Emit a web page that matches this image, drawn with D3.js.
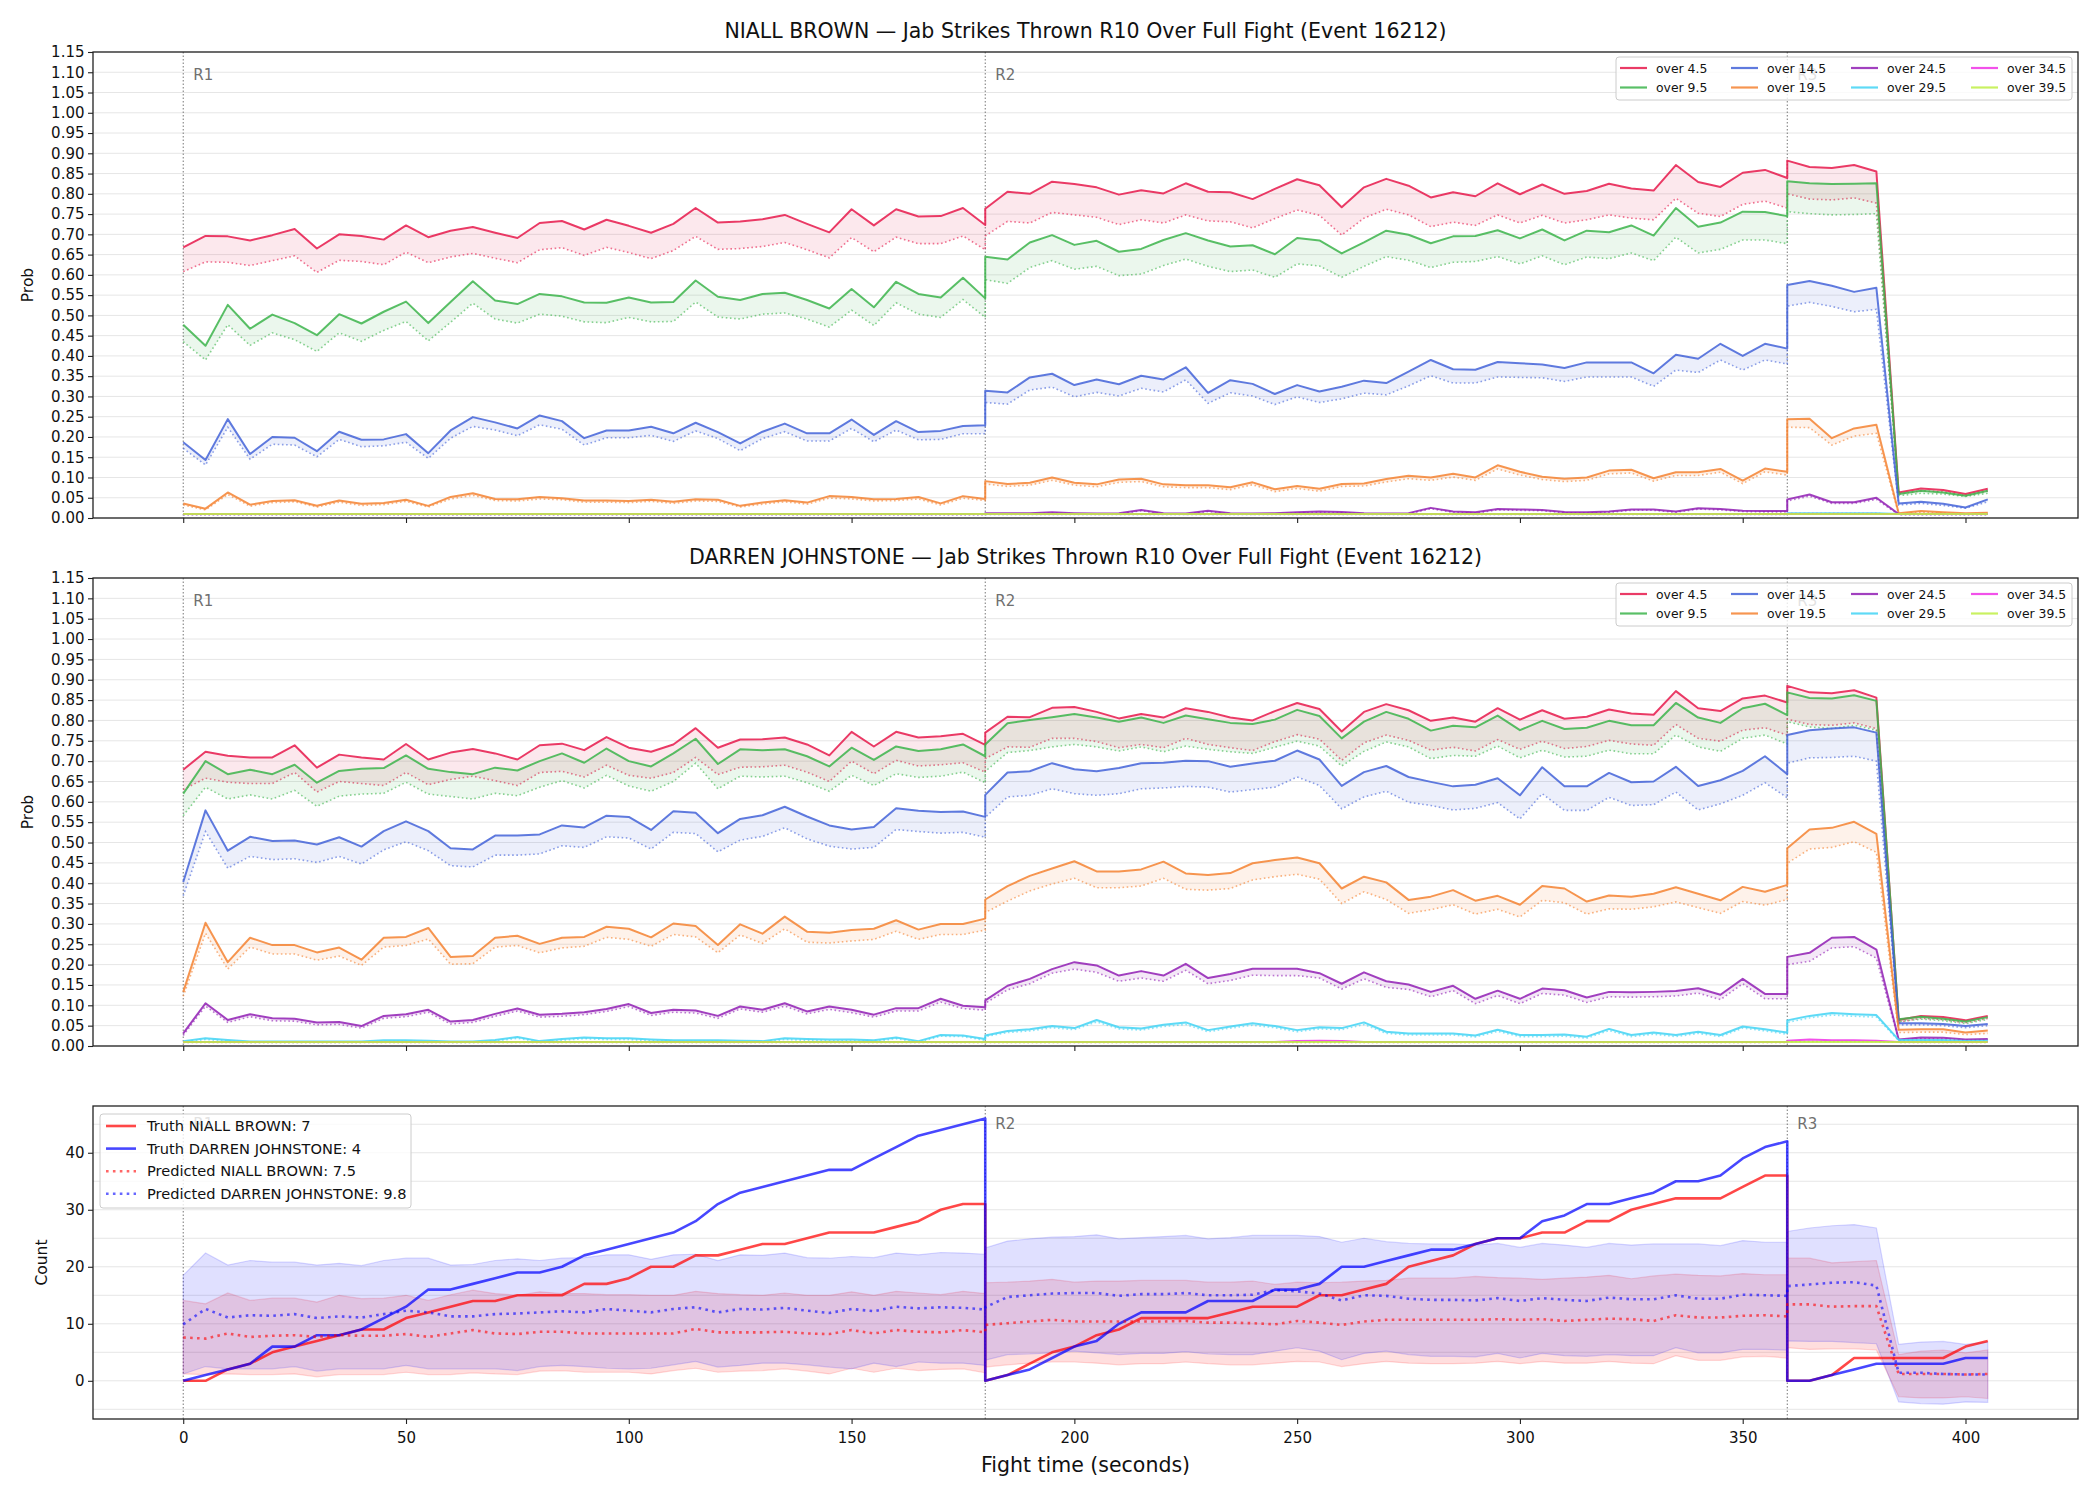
<!DOCTYPE html>
<html>
<head>
<meta charset="utf-8">
<script src="https://cdnjs.cloudflare.com/ajax/libs/d3/7.8.5/d3.min.js"></script>
<style>
  body { margin: 0; background: #fff; }
  text { font-family: "DejaVu Sans", sans-serif; }
</style>
</head>
<body>
<svg id="chart"></svg>
<script>
// time stamps (seconds); round boundaries appear twice (end of one round, start of next)
var times = [
  0,5,10,15,20,25,30,35,40,45,50,55,60,65,70,75,80,85,90,95,100,105,110,115,120,125,130,135,
  140,145,150,155,160,165,170,175,180,
  180,185,190,195,200,205,210,215,220,225,230,235,240,245,250,255,260,265,270,
  275,280,285,290,295,300,305,310,315,320,325,330,335,340,345,350,355,360,
  360,365,370,375,380,385,390,395,400,405
];

var thresholds = ["over 4.5", "over 9.5", "over 14.5", "over 19.5", "over 24.5", "over 29.5", "over 34.5", "over 39.5"];
var lineColors = ["#e6194b", "#3cb44b", "#4363d8", "#f58231", "#911eb4", "#42d4f4", "#f032e6", "#bfef45"];

var probTicks = [0,0.05,0.1,0.15,0.2,0.25,0.3,0.35,0.4,0.45,0.5,0.55,0.6,0.65,0.7,0.75,0.8,0.85,0.9,0.95,1,1.05,1.1,1.15];
var timeTicks = [0,50,100,150,200,250,300,350,400];
var countTicks = [0,10,20,30,40];
var countGrid = [-5,0,5,10,15,20,25,30,35,40,45];
var roundStarts = [0,180,360];
var roundNames = ["R1","R2","R3"];

// ---- NIALL BROWN probabilities (solid and dotted) ----
var nb45 = [
  0.668,0.696,0.695,0.685,0.698,0.713,0.665,0.700,0.696,0.687,0.722,0.693,0.709,0.718,0.704,0.691,0.728,0.733,0.712,0.736,0.721,0.704,0.726,0.765,0.729,0.732,0.737,0.748,
  0.726,0.705,0.762,0.722,0.762,0.744,0.745,0.765,0.723,
  0.763,0.805,0.800,0.830,0.824,0.816,0.798,0.809,0.801,0.826,0.805,0.804,0.787,0.812,0.836,0.821,0.767,0.816,0.837,
  0.820,0.791,0.804,0.794,0.826,0.799,0.823,0.800,0.807,0.825,0.813,0.808,0.871,0.829,0.817,0.852,0.859,0.839,
  0.882,0.866,0.864,0.871,0.855,0.063,0.073,0.069,0.059,0.072];
var nb45d = [
  0.608,0.632,0.631,0.623,0.635,0.647,0.606,0.636,0.633,0.625,0.656,0.630,0.644,0.653,0.641,0.630,0.662,0.667,0.648,0.668,0.655,0.640,0.660,0.695,0.663,0.665,0.670,0.680,
  0.662,0.642,0.692,0.657,0.693,0.677,0.677,0.696,0.662,
  0.696,0.732,0.728,0.754,0.748,0.742,0.724,0.736,0.728,0.748,0.733,0.731,0.716,0.739,0.760,0.747,0.698,0.740,0.762,
  0.748,0.719,0.730,0.722,0.748,0.728,0.747,0.728,0.736,0.748,0.740,0.736,0.789,0.752,0.744,0.774,0.782,0.765,
  0.800,0.787,0.785,0.790,0.777,0.059,0.067,0.065,0.055,0.067];
var nb95 = [
  0.477,0.425,0.526,0.467,0.502,0.481,0.451,0.503,0.480,0.509,0.534,0.481,0.533,0.584,0.537,0.528,0.553,0.547,0.532,0.531,0.544,0.532,0.533,0.586,0.546,0.538,0.553,0.556,
  0.538,0.517,0.565,0.520,0.583,0.553,0.544,0.593,0.542,
  0.645,0.638,0.680,0.698,0.674,0.684,0.657,0.664,0.686,0.703,0.685,0.670,0.673,0.651,0.691,0.685,0.653,0.680,0.709,
  0.699,0.678,0.695,0.696,0.710,0.690,0.712,0.685,0.709,0.705,0.722,0.697,0.765,0.719,0.729,0.756,0.755,0.745,
  0.831,0.826,0.824,0.825,0.826,0.059,0.067,0.063,0.055,0.067];
var nb95d = [
  0.435,0.390,0.477,0.426,0.457,0.440,0.411,0.457,0.436,0.463,0.485,0.437,0.483,0.530,0.491,0.481,0.503,0.498,0.484,0.482,0.495,0.484,0.485,0.533,0.496,0.491,0.503,0.506,
  0.491,0.471,0.513,0.475,0.531,0.503,0.495,0.539,0.495,
  0.588,0.579,0.618,0.635,0.614,0.621,0.598,0.602,0.623,0.639,0.621,0.608,0.612,0.594,0.627,0.622,0.594,0.621,0.645,
  0.636,0.618,0.631,0.633,0.645,0.627,0.647,0.625,0.644,0.640,0.654,0.635,0.693,0.654,0.663,0.686,0.686,0.677,
  0.756,0.751,0.748,0.749,0.751,0.055,0.061,0.059,0.053,0.061];
var nb145 = [
  0.187,0.143,0.244,0.158,0.200,0.198,0.165,0.213,0.193,0.194,0.207,0.160,0.216,0.249,0.236,0.221,0.253,0.239,0.197,0.216,0.216,0.225,0.209,0.235,0.212,0.184,0.213,0.233,
  0.209,0.209,0.243,0.205,0.239,0.212,0.215,0.227,0.229,
  0.314,0.310,0.347,0.356,0.328,0.342,0.330,0.351,0.342,0.372,0.309,0.340,0.331,0.306,0.328,0.312,0.324,0.339,0.333,
  0.361,0.390,0.367,0.366,0.385,0.382,0.379,0.370,0.384,0.384,0.384,0.357,0.403,0.393,0.430,0.400,0.430,0.418,
  0.575,0.585,0.573,0.558,0.568,0.036,0.040,0.035,0.026,0.046];
var nb145d = [
  0.172,0.131,0.224,0.145,0.182,0.180,0.151,0.194,0.176,0.178,0.187,0.147,0.197,0.226,0.217,0.203,0.230,0.219,0.180,0.198,0.198,0.204,0.189,0.215,0.196,0.166,0.196,0.213,
  0.190,0.190,0.221,0.188,0.217,0.193,0.194,0.208,0.208,
  0.285,0.281,0.316,0.323,0.299,0.310,0.301,0.320,0.311,0.341,0.283,0.309,0.301,0.280,0.299,0.285,0.294,0.308,0.304,
  0.326,0.351,0.333,0.333,0.348,0.347,0.346,0.337,0.348,0.348,0.348,0.325,0.365,0.359,0.390,0.365,0.390,0.380,
  0.523,0.532,0.522,0.509,0.515,0.032,0.036,0.031,0.024,0.040];
var nb195 = [
  0.036,0.023,0.063,0.033,0.042,0.044,0.030,0.043,0.035,0.037,0.045,0.030,0.052,0.061,0.047,0.046,0.052,0.049,0.043,0.043,0.042,0.045,0.040,0.046,0.045,0.030,0.038,0.044,
  0.038,0.054,0.052,0.046,0.047,0.052,0.036,0.054,0.047,
  0.091,0.084,0.087,0.100,0.087,0.083,0.095,0.097,0.083,0.081,0.081,0.076,0.088,0.071,0.079,0.072,0.084,0.085,0.096,
  0.104,0.100,0.109,0.100,0.130,0.114,0.102,0.097,0.100,0.117,0.119,0.098,0.113,0.113,0.121,0.092,0.122,0.114,
  0.244,0.245,0.197,0.221,0.230,0.012,0.017,0.014,0.012,0.013];
var nb195d = [
  0.032,0.020,0.058,0.029,0.038,0.040,0.027,0.039,0.031,0.033,0.041,0.027,0.047,0.056,0.043,0.042,0.047,0.045,0.039,0.039,0.038,0.041,0.036,0.042,0.041,0.027,0.034,0.040,
  0.034,0.049,0.047,0.042,0.043,0.047,0.032,0.049,0.043,
  0.084,0.078,0.081,0.093,0.081,0.077,0.088,0.090,0.077,0.075,0.075,0.070,0.082,0.065,0.073,0.066,0.078,0.079,0.089,
  0.097,0.093,0.101,0.093,0.121,0.106,0.095,0.090,0.093,0.109,0.111,0.091,0.105,0.105,0.113,0.085,0.114,0.106,
  0.224,0.223,0.180,0.202,0.209,0.010,0.014,0.012,0.010,0.011];
var nb245 = [
  0.010,0.010,0.010,0.010,0.010,0.010,0.010,0.010,0.010,0.010,0.010,0.010,0.010,0.010,0.010,0.010,0.010,0.010,0.010,0.010,0.010,0.010,0.010,0.010,0.010,0.010,0.010,0.010,
  0.010,0.010,0.010,0.010,0.010,0.010,0.010,0.010,0.010,
  0.012,0.012,0.012,0.014,0.012,0.011,0.012,0.020,0.012,0.011,0.018,0.012,0.011,0.012,0.014,0.016,0.015,0.012,0.011,
  0.012,0.025,0.016,0.014,0.022,0.021,0.020,0.015,0.014,0.016,0.021,0.021,0.016,0.024,0.022,0.018,0.017,0.017,
  0.046,0.058,0.039,0.039,0.050,0.010,0.010,0.010,0.010,0.010];
var nb245d = [
  0.008,0.008,0.008,0.008,0.008,0.008,0.008,0.008,0.008,0.008,0.008,0.008,0.008,0.008,0.008,0.008,0.008,0.008,0.008,0.008,0.008,0.008,0.008,0.008,0.008,0.008,0.008,0.008,
  0.008,0.008,0.008,0.008,0.008,0.008,0.008,0.008,0.008,
  0.010,0.010,0.010,0.012,0.010,0.009,0.010,0.018,0.010,0.009,0.016,0.010,0.009,0.010,0.012,0.014,0.013,0.010,0.009,
  0.010,0.023,0.014,0.012,0.020,0.019,0.018,0.013,0.012,0.014,0.019,0.019,0.014,0.022,0.020,0.016,0.015,0.015,
  0.042,0.054,0.036,0.036,0.046,0.008,0.008,0.008,0.008,0.008];
var nb295 = [
  0.010,0.010,0.010,0.010,0.010,0.010,0.010,0.010,0.010,0.010,0.010,0.010,0.010,0.010,0.010,0.010,0.010,0.010,0.010,0.010,0.010,0.010,0.010,0.010,0.010,0.010,0.010,0.010,
  0.010,0.010,0.010,0.010,0.010,0.010,0.010,0.010,0.010,
  0.010,0.010,0.010,0.010,0.010,0.010,0.010,0.010,0.010,0.010,0.010,0.010,0.010,0.010,0.010,0.010,0.010,0.010,0.010,
  0.010,0.010,0.010,0.010,0.010,0.010,0.010,0.010,0.010,0.010,0.010,0.010,0.010,0.010,0.010,0.010,0.010,0.010,
  0.012,0.012,0.012,0.012,0.012,0.010,0.010,0.010,0.010,0.010];
var nb295d = [
  0.009,0.009,0.009,0.009,0.009,0.009,0.009,0.009,0.009,0.009,0.009,0.009,0.009,0.009,0.009,0.009,0.009,0.009,0.009,0.009,0.009,0.009,0.009,0.009,0.009,0.009,0.009,0.009,
  0.009,0.009,0.009,0.009,0.009,0.009,0.009,0.009,0.009,
  0.009,0.009,0.009,0.009,0.009,0.009,0.009,0.009,0.009,0.009,0.009,0.009,0.009,0.009,0.009,0.009,0.009,0.009,0.009,
  0.009,0.009,0.009,0.009,0.009,0.009,0.009,0.009,0.009,0.009,0.009,0.009,0.009,0.009,0.009,0.009,0.009,0.009,
  0.011,0.011,0.011,0.011,0.011,0.009,0.009,0.009,0.009,0.009];
var nb345 = [
  0.010,0.010,0.010,0.010,0.010,0.010,0.010,0.010,0.010,0.010,0.010,0.010,0.010,0.010,0.010,0.010,0.010,0.010,0.010,0.010,0.010,0.010,0.010,0.010,0.010,0.010,0.010,0.010,
  0.010,0.010,0.010,0.010,0.010,0.010,0.010,0.010,0.010,
  0.010,0.010,0.010,0.010,0.010,0.010,0.010,0.010,0.010,0.010,0.010,0.010,0.010,0.010,0.010,0.010,0.010,0.010,0.010,
  0.010,0.010,0.010,0.010,0.010,0.010,0.010,0.010,0.010,0.010,0.010,0.010,0.010,0.010,0.010,0.010,0.010,0.010,
  0.010,0.010,0.010,0.010,0.010,0.010,0.010,0.010,0.010,0.010];
var nb345d = nb295d;
var nb395 = [
  0.010,0.010,0.010,0.010,0.010,0.010,0.010,0.010,0.010,0.010,0.010,0.010,0.010,0.010,0.010,0.010,0.010,0.010,0.010,0.010,0.010,0.010,0.010,0.010,0.010,0.010,0.010,0.010,
  0.010,0.010,0.010,0.010,0.010,0.010,0.010,0.010,0.010,
  0.010,0.010,0.010,0.010,0.010,0.010,0.010,0.010,0.010,0.010,0.010,0.010,0.010,0.010,0.010,0.010,0.010,0.010,0.010,
  0.010,0.010,0.010,0.010,0.010,0.010,0.010,0.010,0.010,0.010,0.010,0.010,0.010,0.010,0.010,0.010,0.010,0.010,
  0.010,0.010,0.010,0.010,0.010,0.010,0.010,0.010,0.010,0.010];
var nb395d = nb345;

// ---- DARREN JOHNSTONE probabilities ----
var dj45 = [
  0.679,0.723,0.713,0.709,0.709,0.739,0.684,0.716,0.709,0.704,0.742,0.704,0.721,0.730,0.719,0.704,0.739,0.743,0.727,0.759,0.733,0.723,0.741,0.781,0.733,0.753,0.754,0.758,
  0.741,0.714,0.772,0.736,0.772,0.758,0.761,0.767,0.740,
  0.770,0.809,0.808,0.831,0.833,0.821,0.805,0.816,0.807,0.830,0.821,0.807,0.800,0.823,0.843,0.828,0.773,0.821,0.840,
  0.825,0.799,0.807,0.797,0.830,0.802,0.825,0.804,0.809,0.827,0.817,0.814,0.872,0.830,0.823,0.854,0.861,0.844,
  0.885,0.869,0.867,0.874,0.856,0.064,0.074,0.071,0.063,0.074];
var dj45d = [
  0.630,0.658,0.648,0.645,0.645,0.672,0.624,0.650,0.645,0.640,0.672,0.642,0.655,0.663,0.652,0.640,0.672,0.675,0.661,0.690,0.665,0.658,0.672,0.709,0.667,0.685,0.686,0.690,
  0.673,0.650,0.700,0.669,0.702,0.688,0.691,0.696,0.673,
  0.706,0.735,0.734,0.756,0.756,0.748,0.733,0.741,0.733,0.756,0.741,0.733,0.726,0.748,0.765,0.754,0.702,0.745,0.764,
  0.751,0.727,0.734,0.725,0.753,0.729,0.749,0.731,0.736,0.751,0.742,0.739,0.790,0.756,0.749,0.776,0.782,0.764,
  0.803,0.790,0.788,0.794,0.780,0.058,0.068,0.065,0.057,0.068];
var dj95 = [
  0.620,0.700,0.668,0.679,0.668,0.691,0.647,0.676,0.681,0.683,0.714,0.681,0.673,0.668,0.684,0.677,0.700,0.719,0.696,0.731,0.700,0.687,0.719,0.755,0.693,0.729,0.727,0.729,
  0.712,0.687,0.733,0.703,0.736,0.725,0.729,0.741,0.712,
  0.741,0.793,0.801,0.808,0.816,0.807,0.797,0.807,0.794,0.812,0.803,0.794,0.791,0.802,0.826,0.811,0.756,0.797,0.821,
  0.804,0.775,0.787,0.783,0.812,0.776,0.799,0.779,0.782,0.799,0.788,0.788,0.843,0.807,0.794,0.830,0.841,0.813,
  0.869,0.855,0.854,0.862,0.848,0.066,0.072,0.067,0.060,0.071];
var dj95d = [
  0.566,0.636,0.607,0.617,0.607,0.628,0.589,0.614,0.619,0.621,0.648,0.619,0.613,0.607,0.621,0.615,0.636,0.652,0.634,0.665,0.639,0.626,0.650,0.695,0.632,0.663,0.661,0.663,
  0.647,0.626,0.665,0.640,0.669,0.660,0.663,0.673,0.647,
  0.675,0.721,0.726,0.735,0.741,0.735,0.725,0.735,0.723,0.737,0.729,0.723,0.719,0.734,0.749,0.737,0.688,0.724,0.747,
  0.735,0.706,0.714,0.712,0.737,0.708,0.727,0.710,0.712,0.727,0.718,0.718,0.764,0.735,0.724,0.756,0.764,0.742,
  0.797,0.784,0.780,0.788,0.776,0.060,0.066,0.062,0.055,0.065];
var dj145 = [
  0.403,0.579,0.480,0.514,0.504,0.505,0.495,0.513,0.490,0.528,0.552,0.528,0.486,0.483,0.517,0.517,0.520,0.542,0.537,0.566,0.563,0.531,0.577,0.573,0.523,0.558,0.567,0.588,
  0.564,0.542,0.532,0.538,0.584,0.578,0.575,0.576,0.563,
  0.617,0.672,0.675,0.695,0.680,0.675,0.683,0.695,0.696,0.701,0.700,0.686,0.694,0.701,0.726,0.704,0.639,0.673,0.688,
  0.661,0.649,0.638,0.642,0.658,0.616,0.685,0.638,0.638,0.671,0.648,0.650,0.686,0.639,0.653,0.676,0.712,0.668,
  0.764,0.776,0.780,0.783,0.770,0.056,0.056,0.054,0.049,0.054];
var dj145d = [
  0.369,0.527,0.437,0.466,0.458,0.460,0.451,0.466,0.447,0.482,0.502,0.480,0.443,0.440,0.469,0.469,0.472,0.492,0.488,0.514,0.511,0.484,0.525,0.522,0.477,0.506,0.515,0.536,
  0.509,0.491,0.484,0.488,0.532,0.527,0.523,0.525,0.513,
  0.562,0.612,0.616,0.632,0.620,0.616,0.620,0.632,0.634,0.638,0.636,0.624,0.630,0.636,0.661,0.640,0.583,0.612,0.626,
  0.599,0.591,0.580,0.584,0.598,0.558,0.620,0.579,0.579,0.611,0.591,0.593,0.624,0.580,0.595,0.616,0.647,0.610,
  0.695,0.708,0.709,0.712,0.700,0.052,0.052,0.050,0.045,0.050];
var dj195 = [
  0.133,0.303,0.206,0.266,0.248,0.248,0.230,0.242,0.212,0.266,0.268,0.290,0.219,0.221,0.266,0.271,0.251,0.266,0.268,0.293,0.288,0.267,0.301,0.295,0.248,0.299,0.276,0.318,
  0.281,0.278,0.285,0.288,0.309,0.286,0.300,0.300,0.313,
  0.360,0.393,0.418,0.436,0.454,0.429,0.429,0.434,0.453,0.424,0.420,0.425,0.449,0.457,0.463,0.449,0.387,0.416,0.402,
  0.359,0.367,0.383,0.357,0.369,0.347,0.393,0.387,0.355,0.370,0.367,0.374,0.390,0.374,0.358,0.391,0.379,0.396,
  0.486,0.532,0.536,0.551,0.521,0.040,0.041,0.041,0.033,0.038];
var dj195d = [
  0.122,0.277,0.189,0.243,0.226,0.226,0.211,0.221,0.198,0.243,0.247,0.263,0.201,0.202,0.243,0.247,0.229,0.241,0.245,0.267,0.262,0.245,0.274,0.268,0.229,0.273,0.252,0.288,
  0.255,0.253,0.258,0.262,0.282,0.262,0.274,0.274,0.285,
  0.328,0.356,0.381,0.398,0.412,0.389,0.389,0.393,0.412,0.385,0.383,0.387,0.408,0.416,0.422,0.410,0.350,0.379,0.360,
  0.326,0.335,0.347,0.324,0.336,0.317,0.358,0.352,0.324,0.337,0.336,0.342,0.354,0.340,0.326,0.355,0.346,0.360,
  0.449,0.484,0.488,0.502,0.476,0.033,0.034,0.034,0.028,0.031];
var dj245 = [
  0.031,0.105,0.064,0.078,0.068,0.067,0.058,0.059,0.049,0.074,0.078,0.089,0.060,0.064,0.079,0.092,0.077,0.079,0.083,0.091,0.103,0.081,0.089,0.087,0.074,0.097,0.089,0.105,
  0.085,0.097,0.089,0.077,0.093,0.093,0.116,0.099,0.095,
  0.112,0.148,0.165,0.189,0.206,0.198,0.173,0.184,0.173,0.202,0.167,0.177,0.190,0.190,0.190,0.179,0.153,0.181,0.159,
  0.151,0.133,0.148,0.116,0.136,0.116,0.141,0.137,0.119,0.133,0.132,0.133,0.135,0.142,0.126,0.165,0.128,0.128,
  0.219,0.229,0.266,0.268,0.237,0.016,0.021,0.020,0.016,0.017];
var dj245d = [
  0.026,0.098,0.058,0.072,0.062,0.061,0.052,0.053,0.044,0.068,0.072,0.083,0.054,0.058,0.073,0.086,0.071,0.073,0.077,0.085,0.097,0.075,0.083,0.081,0.068,0.091,0.083,0.098,
  0.079,0.090,0.082,0.071,0.086,0.086,0.108,0.092,0.088,
  0.105,0.138,0.153,0.179,0.189,0.181,0.159,0.167,0.159,0.186,0.153,0.161,0.174,0.173,0.173,0.167,0.140,0.165,0.144,
  0.139,0.121,0.136,0.104,0.124,0.104,0.129,0.125,0.107,0.121,0.120,0.121,0.123,0.130,0.114,0.153,0.116,0.116,
  0.200,0.208,0.241,0.244,0.216,0.014,0.018,0.017,0.014,0.015];
var dj295 = [
  0.012,0.019,0.015,0.011,0.011,0.011,0.011,0.011,0.011,0.014,0.014,0.013,0.011,0.011,0.015,0.022,0.012,0.017,0.021,0.019,0.019,0.016,0.014,0.014,0.014,0.013,0.012,0.019,
  0.017,0.016,0.016,0.014,0.021,0.012,0.027,0.026,0.017,
  0.026,0.037,0.041,0.049,0.044,0.064,0.046,0.043,0.052,0.058,0.039,0.048,0.056,0.049,0.039,0.046,0.044,0.058,0.035,
  0.031,0.031,0.031,0.026,0.040,0.027,0.027,0.028,0.023,0.042,0.027,0.033,0.027,0.035,0.027,0.048,0.041,0.033,
  0.063,0.074,0.081,0.078,0.076,0.015,0.015,0.015,0.012,0.013];
var dj295d = [
  0.010,0.016,0.012,0.009,0.009,0.009,0.009,0.009,0.009,0.011,0.011,0.010,0.009,0.009,0.012,0.019,0.009,0.014,0.018,0.016,0.016,0.013,0.011,0.011,0.011,0.010,0.009,0.016,
  0.014,0.013,0.013,0.011,0.018,0.009,0.024,0.023,0.014,
  0.023,0.033,0.037,0.045,0.040,0.059,0.042,0.039,0.048,0.053,0.035,0.044,0.051,0.045,0.035,0.042,0.040,0.053,0.031,
  0.027,0.027,0.027,0.022,0.036,0.023,0.023,0.024,0.019,0.038,0.023,0.029,0.023,0.031,0.023,0.044,0.037,0.029,
  0.058,0.069,0.076,0.073,0.071,0.013,0.013,0.013,0.010,0.011];
var dj345 = [
  0.010,0.010,0.010,0.010,0.010,0.010,0.010,0.010,0.010,0.010,0.010,0.010,0.010,0.010,0.010,0.010,0.010,0.010,0.010,0.010,0.010,0.010,0.010,0.010,0.010,0.010,0.010,0.010,
  0.010,0.010,0.010,0.010,0.010,0.010,0.010,0.010,0.010,
  0.010,0.010,0.010,0.010,0.010,0.010,0.010,0.010,0.010,0.010,0.010,0.010,0.010,0.010,0.012,0.013,0.012,0.010,0.010,
  0.010,0.010,0.010,0.010,0.010,0.010,0.010,0.010,0.010,0.010,0.010,0.010,0.010,0.010,0.010,0.010,0.010,0.010,
  0.013,0.016,0.014,0.014,0.013,0.010,0.010,0.010,0.010,0.010];
var dj345d = nb295d;
var dj395 = nb395;
var dj395d = nb295d;

// ---- cumulative counts ----
var nbTruth = [
  0,0,2,3,5,6,7,8,9,9,11,12,13,14,14,15,15,15,17,17,18,20,20,22,22,23,24,24,
  25,26,26,26,27,28,30,31,31,
  0,1,3,5,6,8,9,11,11,11,11,12,13,13,13,15,15,16,17,
  20,21,22,24,25,25,26,26,28,28,30,31,32,32,32,34,36,36,
  0,0,1,4,4,4,4,4,6,7];
var djTruth = [
  0,1,2,3,6,6,8,8,9,11,13,16,16,17,18,19,19,20,22,23,24,25,26,28,31,33,34,35,
  36,37,37,39,41,43,44,45,46,
  0,1,2,4,6,7,10,12,12,12,14,14,14,16,16,17,20,20,21,
  22,23,23,24,25,25,28,29,31,31,32,33,35,35,36,39,41,42,
  0,0,1,2,3,3,3,3,4,4];
var nbPred = [
  7.6,7.4,8.3,7.7,7.9,8.0,7.7,8.0,7.9,7.9,8.2,7.7,8.3,8.9,8.3,8.2,8.6,8.6,8.3,8.3,8.3,8.3,8.3,9.1,8.5,8.5,8.5,8.6,
  8.3,8.2,8.9,8.3,8.9,8.6,8.5,8.9,8.5,
  9.8,10.1,10.4,10.7,10.4,10.4,10.4,10.4,10.4,10.5,10.2,10.2,10.1,9.9,10.5,10.2,9.8,10.4,10.7,
  10.7,10.7,10.7,10.7,10.8,10.7,10.8,10.5,10.7,10.9,10.8,10.5,11.5,11.1,11.1,11.4,11.5,11.3,
  13.4,13.4,13.0,13.1,13.1,1.2,1.2,1.2,1.1,1.2];
var djPred = [
  9.9,12.6,11.1,11.5,11.4,11.7,11.0,11.3,11.1,11.7,12.3,12.0,11.3,11.3,11.7,11.8,12.0,12.2,12.0,12.6,12.3,12.0,12.6,12.9,12.0,12.6,12.5,12.8,
  12.3,11.9,12.6,12.2,13.0,12.7,12.9,12.8,12.5,
  12.9,14.7,15.0,15.3,15.4,15.4,14.9,15.2,15.2,15.4,15.0,15.0,15.1,15.9,15.7,15.3,14.1,15.0,14.9,
  14.4,14.2,14.2,14.1,14.5,14.0,14.5,14.2,14.0,14.6,14.3,14.3,15.0,14.4,14.4,15.1,15.0,14.9,
  16.6,16.9,17.2,17.3,16.7,1.4,1.4,1.2,1.1,1.1];
var nbHigh = [
  14.1,13.5,15.4,14.1,14.5,14.5,13.8,15.0,14.4,14.5,15.0,14.1,15.1,15.9,15.3,15.0,15.6,15.3,15.3,15.1,15.1,15.0,15.0,15.7,15.3,15.1,15.0,15.4,
  15.0,15.0,15.6,15.0,15.7,15.4,15.1,15.7,15.3,
  17.2,17.3,17.5,17.8,17.3,17.5,17.5,17.6,17.6,17.6,17.3,17.3,17.5,16.9,17.3,17.2,17.3,17.5,17.6,
  18.0,18.0,18.0,18.3,18.1,18.0,17.8,18.0,18.2,18.5,17.9,18.4,18.7,18.5,18.4,18.8,18.6,18.6,
  21.5,21.5,20.7,20.9,21.1,4.6,5.2,5.4,4.9,5.4];
var nbLow = [
  1.2,1.1,1.2,1.1,1.1,1.2,0.7,1.1,1.1,1.1,1.5,1.1,1.1,1.4,1.2,1.1,1.7,1.8,1.5,1.5,1.5,1.2,1.8,2.2,1.5,1.7,1.8,2.1,
  1.7,1.2,2.2,1.5,2.2,1.8,2.0,2.1,1.4,
  2.4,2.8,3.1,3.3,3.3,3.1,2.8,3.0,3.0,3.3,3.0,2.8,2.8,3.1,3.4,3.3,2.5,3.0,3.4,
  3.1,3.0,3.0,3.1,3.4,3.0,3.4,3.1,3.1,3.4,3.1,3.0,4.4,3.6,3.6,4.2,4.3,4.0,
  5.8,5.5,5.6,5.6,5.4,-2.8,-3.0,-3.0,-2.8,-3.1];
var djHigh = [
  18.5,22.4,20.3,21.1,20.8,20.8,20.3,20.6,20.2,21.1,21.5,21.5,20.3,20.4,21.1,21.4,21.1,21.5,21.6,22.1,22.1,21.3,22.1,22.2,21.1,22.1,22.0,22.4,
  21.6,21.5,21.8,21.6,22.4,22.1,22.5,22.4,22.2,
  23.3,24.5,24.9,25.2,25.3,25.6,24.9,25.1,25.3,25.5,24.9,25.1,25.5,25.5,25.5,25.3,24.3,25.0,24.4,
  24.1,24.0,24.0,23.8,24.1,23.4,24.1,23.8,23.4,24.1,23.8,24.0,24.0,24.0,23.7,24.6,24.3,24.3,
  26.2,26.8,27.2,27.4,26.8,6.4,6.8,6.9,6.4,6.8];
var djLow = [
  1.2,2.5,2.1,2.1,2.1,2.5,1.7,2.1,2.1,2.1,2.7,2.1,2.1,2.1,2.1,1.8,2.5,2.7,2.5,2.2,2.1,2.2,2.8,3.4,2.4,2.7,3.1,3.1,
  2.8,2.4,2.1,3.1,2.5,3.3,3.1,3.1,2.7,
  3.6,4.6,4.7,4.9,5.2,4.9,4.6,4.8,4.8,5.1,4.7,4.6,4.6,5.2,5.8,5.2,3.7,4.8,5.2,
  4.6,4.3,4.3,4.2,4.8,4.0,4.8,4.4,4.3,4.6,4.4,4.4,5.8,4.9,4.9,5.5,5.5,5.4,
  7.0,6.9,6.9,6.7,6.5,-3.7,-4.0,-4.1,-3.7,-3.8];

var nbSolid = [nb45, nb95, nb145, nb195, nb245, nb295, nb345, nb395];
var nbDotted = [nb45d, nb95d, nb145d, nb195d, nb245d, nb295d, nb345d, nb395d];
var djSolid = [dj45, dj95, dj145, dj195, dj245, dj295, dj345, dj395];
var djDotted = [dj45d, dj95d, dj145d, dj195d, dj245d, dj295d, dj345d, dj395d];

var width = 2100, height = 1500;
var left = 93, right = 2078;
var tickFont = 15, labelFont = 15.5, titleFont = 20.5;

var svg = d3.select("#chart")
    .attr("width", width)
    .attr("height", height);
svg.append("rect").attr("width", width).attr("height", height).attr("fill", "#fff");

var x = d3.scaleLinear().domain([-20.25, 425.25]).range([left, right]);

function spines(g, top, bottom) {
    g.append("rect")
        .attr("x", left).attr("y", top)
        .attr("width", right - left).attr("height", bottom - top)
        .attr("fill", "none").attr("stroke", "#222").attr("stroke-width", 1.3);
}

function xTicks(g, bottom, withLabels) {
    var axis = d3.axisBottom(x).tickValues(timeTicks).tickSize(5).tickPadding(8)
        .tickFormat(withLabels ? d3.format("d") : "");
    var a = g.append("g").attr("transform", `translate(0,${bottom})`).call(axis);
    a.select(".domain").remove();
    a.selectAll("line").attr("stroke", "#222").attr("stroke-width", 1.1);
    a.selectAll("text").attr("font-size", tickFont).attr("fill", "#111");
}

function roundMarks(g, top, bottom, labelY) {
    roundStarts.forEach(function(t, i) {
        g.append("line")
            .attr("x1", x(t)).attr("x2", x(t)).attr("y1", top).attr("y2", bottom)
            .attr("stroke", "#777").attr("stroke-width", 1).attr("stroke-dasharray", "1.5,2");
        g.append("text")
            .attr("x", x(t) + 10).attr("y", labelY)
            .attr("font-size", 15).attr("fill", "#707070")
            .text(roundNames[i]);
    });
}

function yAxisStyle(ya) {
    ya.select(".domain").remove();
    ya.selectAll("line").attr("stroke", "#222").attr("stroke-width", 1.1);
    ya.selectAll("text").attr("font-size", tickFont).attr("fill", "#111");
}

function probPanel(top, bottom, title, solids, dotteds) {
    var y = d3.scaleLinear().domain([0, 1.15]).range([bottom, top]);
    var g = svg.append("g");
    var clipId = "clip" + top;
    g.append("clipPath").attr("id", clipId).append("rect")
        .attr("x", left).attr("y", top).attr("width", right - left).attr("height", bottom - top);

    g.selectAll(".grid").data(probTicks).enter().append("line")
        .attr("x1", left).attr("x2", right)
        .attr("y1", function(d) { return y(d); }).attr("y2", function(d) { return y(d); })
        .attr("stroke", "#e6e6e6").attr("stroke-width", 1);

    roundMarks(g, top, bottom, top + 28);

    var plot = g.append("g").attr("clip-path", `url(#${clipId})`);
    var line = d3.line()
        .x(function(d, i) { return x(times[i]); })
        .y(function(d) { return y(d); });

    thresholds.forEach(function(name, k) {
        var s = solids[k], dd = dotteds[k];
        var area = d3.area()
            .x(function(d, i) { return x(times[i]); })
            .y0(function(d, i) { return y(dd[i]); })
            .y1(function(d) { return y(d); });
        plot.append("path").datum(s).attr("d", area)
            .attr("fill", lineColors[k]).attr("fill-opacity", 0.1);
        plot.append("path").datum(s).attr("d", line)
            .attr("fill", "none").attr("stroke", lineColors[k]).attr("stroke-opacity", 0.85)
            .attr("stroke-width", 2).attr("stroke-linejoin", "round");
        plot.append("path").datum(dd).attr("d", line)
            .attr("fill", "none").attr("stroke", lineColors[k]).attr("stroke-opacity", 0.6)
            .attr("stroke-width", 1.6).attr("stroke-dasharray", "1.6,2.6");
    });

    var yAxis = d3.axisLeft(y).tickValues(probTicks).tickSize(5).tickPadding(3.5)
        .tickFormat(d3.format(".2f"));
    yAxisStyle(g.append("g").attr("transform", `translate(${left},0)`).call(yAxis));

    xTicks(g, bottom, false);
    spines(g, top, bottom);

    g.append("text")
        .attr("x", (left + right) / 2).attr("y", top - 14)
        .attr("text-anchor", "middle").attr("font-size", titleFont).attr("fill", "#111")
        .text(title);
    g.append("text")
        .attr("transform", `translate(33,${(top + bottom) / 2}) rotate(-90)`)
        .attr("text-anchor", "middle").attr("font-size", labelFont).attr("fill", "#111")
        .text("Prob");

    // legend, 4 columns filled column by column
    var lg = g.append("g");
    lg.append("rect")
        .attr("x", 1616).attr("y", top + 5).attr("width", 456).attr("height", 43)
        .attr("rx", 3).attr("fill", "#fff").attr("fill-opacity", 0.8)
        .attr("stroke", "#cccccc").attr("stroke-width", 1);
    var colX = [1620, 1731, 1851, 1971];
    thresholds.forEach(function(name, k) {
        var cx = colX[Math.floor(k / 2)];
        var cy = top + 16 + (k % 2) * 19.5;
        lg.append("line").attr("x1", cx).attr("x2", cx + 27).attr("y1", cy).attr("y2", cy)
            .attr("stroke", lineColors[k]).attr("stroke-opacity", 0.85).attr("stroke-width", 2.2);
        lg.append("text").attr("x", cx + 36).attr("y", cy + 4.5)
            .attr("font-size", 12.4).attr("fill", "#111").text(name);
    });
}

probPanel(52, 518, "NIALL BROWN \u2014 Jab Strikes Thrown R10 Over Full Fight (Event 16212)", nbSolid, nbDotted);
probPanel(578, 1046, "DARREN JOHNSTONE \u2014 Jab Strikes Thrown R10 Over Full Fight (Event 16212)", djSolid, djDotted);

// ---- count panel ----
(function() {
    var top = 1106, bottom = 1419;
    var y = d3.scaleLinear().domain([-6.7, 48.2]).range([bottom, top]);
    var g = svg.append("g");
    g.append("clipPath").attr("id", "clipCount").append("rect")
        .attr("x", left).attr("y", top).attr("width", right - left).attr("height", bottom - top);

    g.selectAll(".grid").data(countGrid).enter().append("line")
        .attr("x1", left).attr("x2", right)
        .attr("y1", function(d) { return y(d); }).attr("y2", function(d) { return y(d); })
        .attr("stroke", "#e6e6e6").attr("stroke-width", 1);

    roundMarks(g, top, bottom, top + 23);

    var plot = g.append("g").attr("clip-path", "url(#clipCount)");
    function band(lo, hi, color, op) {
        var area = d3.area()
            .x(function(d, i) { return x(times[i]); })
            .y0(function(d, i) { return y(lo[i]); })
            .y1(function(d) { return y(d); });
        plot.append("path").datum(hi).attr("d", area)
            .attr("fill", color).attr("fill-opacity", op)
            .attr("stroke", color).attr("stroke-opacity", 0.15).attr("stroke-width", 1.2);
    }
    band(nbLow, nbHigh, "#ff0000", 0.13);
    band(djLow, djHigh, "#0000ff", 0.12);

    var line = d3.line()
        .x(function(d, i) { return x(times[i]); })
        .y(function(d) { return y(d); });
    function path(data, color, op, dash) {
        var p = plot.append("path").datum(data).attr("d", line)
            .attr("fill", "none").attr("stroke", color).attr("stroke-opacity", op)
            .attr("stroke-width", 2.6).attr("stroke-linejoin", "round");
        if (dash) p.attr("stroke-dasharray", dash);
    }
    path(nbTruth, "#ff0000", 0.72);
    path(djTruth, "#0000ff", 0.72);
    path(nbPred, "#ff0000", 0.6, "2.6,4.3");
    path(djPred, "#0000ff", 0.6, "2.6,4.3");

    var yAxis = d3.axisLeft(y).tickValues(countTicks).tickSize(5).tickPadding(3.5)
        .tickFormat(d3.format("d"));
    yAxisStyle(g.append("g").attr("transform", `translate(${left},0)`).call(yAxis));

    xTicks(g, bottom, true);
    spines(g, top, bottom);

    g.append("text")
        .attr("transform", `translate(47,${(top + bottom) / 2}) rotate(-90)`)
        .attr("text-anchor", "middle").attr("font-size", labelFont).attr("fill", "#111")
        .text("Count");
    g.append("text")
        .attr("x", (left + right) / 2).attr("y", 1472)
        .attr("text-anchor", "middle").attr("font-size", titleFont).attr("fill", "#111")
        .text("Fight time (seconds)");

    var entries = [
        {label: "Truth NIALL BROWN: 7", color: "#ff0000", op: 0.72, dash: null},
        {label: "Truth DARREN JOHNSTONE: 4", color: "#0000ff", op: 0.72, dash: null},
        {label: "Predicted NIALL BROWN: 7.5", color: "#ff0000", op: 0.6, dash: "2.6,4.3"},
        {label: "Predicted DARREN JOHNSTONE: 9.8", color: "#0000ff", op: 0.6, dash: "2.6,4.3"}
    ];
    var lg = g.append("g");
    lg.append("rect")
        .attr("x", 100).attr("y", 1114).attr("width", 311).attr("height", 94)
        .attr("rx", 3).attr("fill", "#fff").attr("fill-opacity", 0.8)
        .attr("stroke", "#cccccc").attr("stroke-width", 1);
    entries.forEach(function(e, i) {
        var cy = 1126 + i * 22.6;
        var l = lg.append("line").attr("x1", 106).attr("x2", 136).attr("y1", cy).attr("y2", cy)
            .attr("stroke", e.color).attr("stroke-opacity", e.op).attr("stroke-width", 2.6);
        if (e.dash) l.attr("stroke-dasharray", e.dash);
        lg.append("text").attr("x", 147).attr("y", cy + 5)
            .attr("font-size", 14.6).attr("fill", "#111").text(e.label);
    });
})();
</script>
</body>
</html>
